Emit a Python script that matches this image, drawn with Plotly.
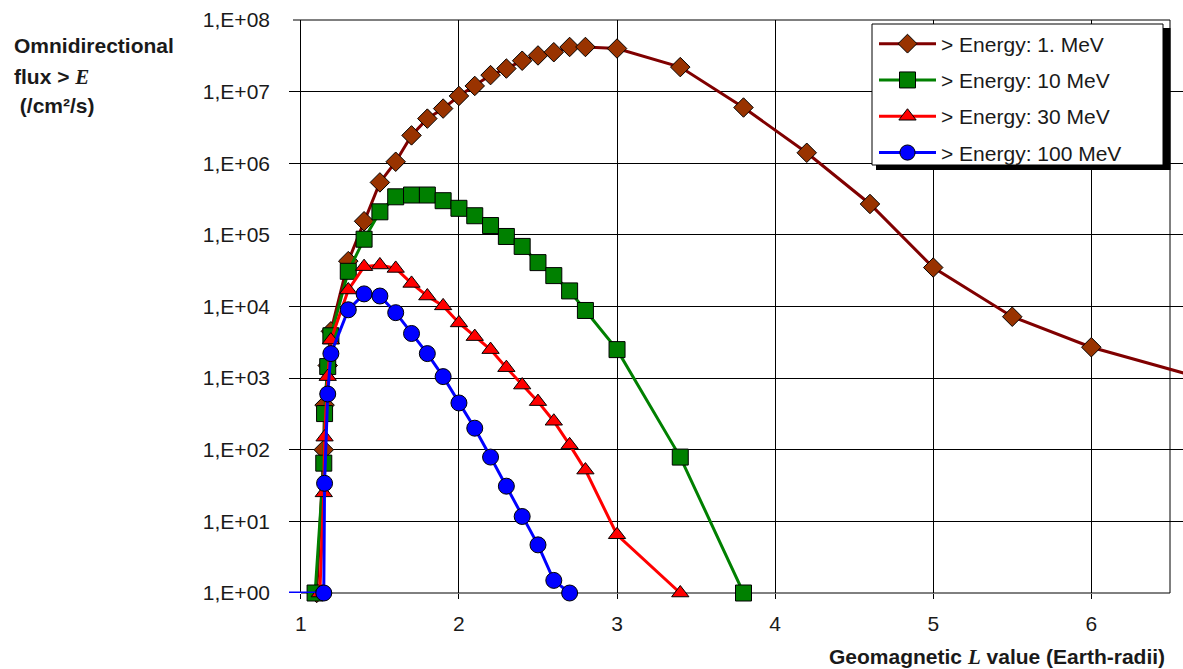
import plotly.graph_objects as go

# ---------------- data ----------------
L_1MeV = [1.10, 1.145, 1.15, 1.17, 1.19, 1.30, 1.40, 1.50, 1.60, 1.70, 1.80, 1.90, 2.00,
          2.10, 2.20, 2.30, 2.40, 2.50, 2.60, 2.70, 2.80, 3.00, 3.40, 3.80, 4.20, 4.60,
          5.00, 5.50, 6.00, 7.00]
F_1MeV = [1, 100, 420, 1.5e3, 4.5e3, 4.3e4, 1.55e5, 5.4e5, 1.05e6, 2.45e6, 4.2e6, 5.8e6,
          8.7e6, 1.2e7, 1.7e7, 2.1e7, 2.7e7, 3.2e7, 3.55e7, 4.2e7, 4.2e7, 4.0e7, 2.2e7,
          6.0e6, 1.4e6, 2.7e5, 3.5e4, 7.2e3, 2.7e3, 6.5e2]

L_10MeV = [1.09, 1.145, 1.15, 1.17, 1.19, 1.30, 1.40, 1.50, 1.60, 1.70, 1.80, 1.90, 2.00,
           2.10, 2.20, 2.30, 2.40, 2.50, 2.60, 2.70, 2.80, 3.00, 3.40, 3.80]
F_10MeV = [1, 65, 320, 1.45e3, 3.9e3, 3.1e4, 8.7e4, 2.1e5, 3.4e5, 3.6e5, 3.6e5, 3.0e5,
           2.35e5, 1.85e5, 1.35e5, 9.5e4, 6.9e4, 4.1e4, 2.7e4, 1.65e4, 8.8e3, 2.5e3, 79, 1]

L_30MeV = [1.12, 1.145, 1.15, 1.17, 1.19, 1.30, 1.40, 1.50, 1.60, 1.70, 1.80, 1.90, 2.00,
           2.10, 2.20, 2.30, 2.40, 2.50, 2.60, 2.70, 2.80, 3.00, 3.40]
F_30MeV = [1, 25, 150, 1.05e3, 3.4e3, 1.7e4, 3.6e4, 3.8e4, 3.4e4, 2.1e4, 1.4e4, 1.02e4,
           5.9e3, 3.8e3, 2.5e3, 1.4e3, 800, 470, 250, 117, 52, 6.5, 1]

L_100MeV = [0.90, 1.145, 1.15, 1.17, 1.19, 1.30, 1.40, 1.50, 1.60, 1.70, 1.80, 1.90, 2.00,
            2.10, 2.20, 2.30, 2.40, 2.50, 2.60, 2.70]
F_100MeV = [1, 1, 34, 600, 2.2e3, 9e3, 1.5e4, 1.4e4, 8.2e3, 4.2e3, 2.2e3, 1.05e3, 450,
            200, 79, 31, 11.7, 4.7, 1.5, 1.0]

SERIES_NAMES = ["> Energy: 1. MeV", "> Energy: 10 MeV", "> Energy: 30 MeV", "> Energy: 100 MeV"]

Y_TICKVALS = [1, 1e1, 1e2, 1e3, 1e4, 1e5, 1e6, 1e7, 1e8]
Y_TICKTEXT = ["1,E+00", "1,E+01", "1,E+02", "1,E+03", "1,E+04", "1,E+05", "1,E+06",
              "1,E+07", "1,E+08"]
X_TICKVALS = [1, 2, 3, 4, 5, 6]

# ---------------- layout geometry ----------------
W, H = 1183, 669
ML, MR, MT, MB = 289, 0, 20, 76
PW = W - ML - MR
PH = H - MT - MB
X_RANGE = [0.925, 6.58]


def px(x):
    return (x - ML) / PW


def py(y):
    return (H - MB - y) / PH


FONT = "Liberation Sans, Arial, sans-serif"
TXT = "#1a1a1a"

styles = [
    dict(line="#800000", fill="#993300", symbol="diamond", size=15),
    dict(line="#008000", fill="#008000", symbol="square", size=16),
    dict(line="#ff0000", fill="#ff0000", symbol="triangle-up", size=15),
    dict(line="#0000ff", fill="#0000ff", symbol="circle", size=16),
]
data = [(L_1MeV, F_1MeV), (L_10MeV, F_10MeV), (L_30MeV, F_30MeV), (L_100MeV, F_100MeV)]

fig = go.Figure()
for i, ((xs, ys), st, name) in enumerate(zip(data, styles, SERIES_NAMES)):
    sizes = [st["size"] if X_RANGE[0] <= v <= X_RANGE[1] else 0 for v in xs]
    fig.add_trace(go.Scatter(
        x=xs, y=ys, name=name, mode="lines+markers",
        legendgroup=f"g{i}",
        line=dict(color=st["line"], width=3),
        marker=dict(symbol=st["symbol"], size=sizes, color=st["fill"], opacity=1,
                    line=dict(color="black", width=1)),
        cliponaxis=False,
    ))

shapes = [
    # masks so that gridlines stop at the chart frame
    dict(type="rect", xref="paper", yref="paper", x0=px(280), x1=px(293.5), y0=-0.02, y1=1.02,
         fillcolor="white", line=dict(width=0), layer="between"),
    dict(type="rect", xref="paper", yref="paper", x0=px(1170.5), x1=px(1190), y0=-0.02, y1=1.02,
         fillcolor="white", line=dict(width=0), layer="between"),
    # frame lines
    dict(type="line", xref="paper", yref="paper", x0=px(1170), x1=px(1170), y0=0, y1=1,
         line=dict(color="black", width=1), layer="between"),
    dict(type="line", xref="paper", yref="paper", x0=px(293), x1=px(1170), y0=1, y1=1,
         line=dict(color="black", width=1), layer="between"),
    dict(type="line", xref="paper", yref="paper", x0=px(301), x1=px(1170), y0=0, y1=0,
         line=dict(color="black", width=1), layer="between"),
    # legend shadow + box
    dict(type="rect", xref="paper", yref="paper", x0=px(876), x1=px(1170.5), y0=py(170), y1=py(28),
         fillcolor="black", line=dict(width=0), layer="above"),
    dict(type="rect", xref="paper", yref="paper", x0=px(872), x1=px(1163), y0=py(165), y1=py(24),
         fillcolor="white", line=dict(color="black", width=1), layer="above"),
]

bold = dict(family=FONT, size=21, color=TXT)
annotations = [
    dict(text="<b>Omnidirectional</b>", x=px(12), y=py(45), xref="paper", yref="paper",
         xanchor="left", yanchor="middle", showarrow=False, font=bold),
    dict(text="<b>flux &gt; </b><b><i><span style=\"font-family:'Liberation Serif'\">E</span></i></b>",
         x=px(12), y=py(77), xref="paper", yref="paper",
         xanchor="left", yanchor="middle", showarrow=False, font=bold),
    dict(text="<b> (/cm²/s)</b>", x=px(12), y=py(105), xref="paper", yref="paper",
         xanchor="left", yanchor="middle", showarrow=False, font=bold),
    dict(text="<b>Geomagnetic </b><b><i><span style=\"font-family:'Liberation Serif'\">L</span></i></b><b> value (Earth-radii)</b>",
         x=px(1167), y=py(657), xref="paper", yref="paper",
         xanchor="right", yanchor="middle", showarrow=False, font=bold),
]

fig.update_layout(
    width=W, height=H,
    margin=dict(l=ML, r=MR, t=MT, b=MB, pad=0),
    paper_bgcolor="white", plot_bgcolor="white",
    font=dict(family=FONT, size=21, color=TXT),
    showlegend=True,
    legend=dict(x=px(874), y=py(23.5), xanchor="left", yanchor="top",
                bgcolor="rgba(0,0,0,0)", borderwidth=0,
                font=dict(family=FONT, size=21, color=TXT),
                itemwidth=57, tracegroupgap=6, traceorder="grouped"),
    shapes=shapes,
    annotations=annotations,
    xaxis=dict(range=X_RANGE, tickvals=X_TICKVALS, showgrid=True, gridcolor="black", gridwidth=1,
               zeroline=False, showline=False, ticks="outside", ticklen=5, tickcolor="black",
               ticklabelstandoff=7, tickfont=dict(family=FONT, size=21, color=TXT)),
    yaxis=dict(type="log", range=[0, 8], tickvals=Y_TICKVALS, ticktext=Y_TICKTEXT,
               showgrid=True, gridcolor="black", gridwidth=1, zeroline=False, showline=False,
               ticks="", ticklabelstandoff=18, tickfont=dict(family=FONT, size=21, color=TXT)),
)

fig.write_html("out.html")
